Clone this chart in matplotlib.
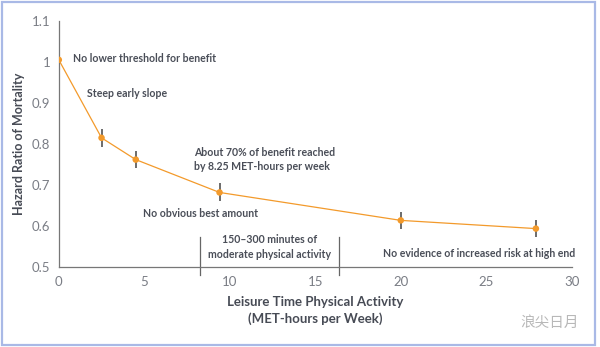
import matplotlib
matplotlib.use("Agg")
import matplotlib.pyplot as plt
from matplotlib.patches import Rectangle

plt.rcParams['font.family'] = ['Lato', 'Noto Sans CJK SC', 'DejaVu Sans']

met = [0, 2.5, 4.5, 9.4, 20, 27.9]
hr = [1.005, 0.815, 0.762, 0.682, 0.614, 0.594]
err = [0.0, 0.022, 0.02, 0.022, 0.02, 0.02]
xticks = [0, 5, 10, 15, 20, 25, 30]
yticks = [0.5, 0.6, 0.7, 0.8, 0.9, 1.0, 1.1]
ytick_labels = ['0.5', '0.6', '0.7', '0.8', '0.9', '1', '1.1']
guide_x = [8.25, 16.4]

orange = '#f39a2b'
tickc = '#7a7d85'

fig = plt.figure(figsize=(6.0, 3.47), dpi=100)
ax = fig.add_axes([0.098, 0.23, 0.855, 0.71])

ax.plot(met, hr, color=orange, lw=0.9, zorder=2)
ax.errorbar(met[1:], hr[1:], yerr=err[1:], fmt='none', ecolor='#444', elinewidth=1.1, capsize=0, zorder=3)
ax.scatter(met, hr, color=orange, s=22, zorder=4, edgecolors='none')

ax.set_xlim(0, 30)
ax.set_ylim(0.5, 1.1)
ax.set_xticks(xticks)
ax.set_yticks(yticks)
ax.set_yticklabels(ytick_labels)
ax.tick_params(length=0, colors=tickc, labelsize=9.5, pad=6)
for s in ['top', 'right']:
    ax.spines[s].set_visible(False)
for s in ['left', 'bottom']:
    ax.spines[s].set_color('#777')
    ax.spines[s].set_linewidth(0.9)

for gx in guide_x:
    ax.plot([gx, gx], [0.48, 0.573], color='#666', lw=0.9, clip_on=False, zorder=1)

ax.set_ylabel('Hazard Ratio of Mortality', fontsize=9, fontweight='bold', color='#474b55', labelpad=5)
ax.set_xlabel('Leisure Time Physical Activity\n(MET-hours per Week)', fontsize=9.5, fontweight='bold',
              color='#474b55', labelpad=6, linespacing=1.4)

tk = dict(fontsize=7.6, fontweight='bold', color='#4a4e58')
ax.text(0.82, 1.008, 'No lower threshold for benefit', va='center', **tk)
ax.text(1.64, 0.922, 'Steep early slope', va='center', **tk)
ax.text(7.9, 0.762, 'About 70% of benefit reached\nby 8.25 MET-hours per week', va='center', linespacing=1.4, **tk)
ax.text(8.3, 0.631, 'No obvious best amount', va='center', ha='center', **tk)
ax.text(12.35, 0.549, '150–300 minutes of\nmoderate physical activity', va='center', ha='center', linespacing=1.4, **tk)
ax.text(30.2, 0.5345, 'No evidence of increased risk at high end', va='center', ha='right', **tk)

fig.text(0.965, 0.068, '浪尖日月', fontsize=10.5, color='#b8b8b8', ha='right', va='center',
         family=['Noto Sans CJK SC', 'DejaVu Sans'])

fig.patches.append(Rectangle((0.003, 0.006), 0.988, 0.988, transform=fig.transFigure,
                             fill=False, edgecolor='#a9b9e6', lw=1.6))

fig.savefig('out.png', dpi=100)
